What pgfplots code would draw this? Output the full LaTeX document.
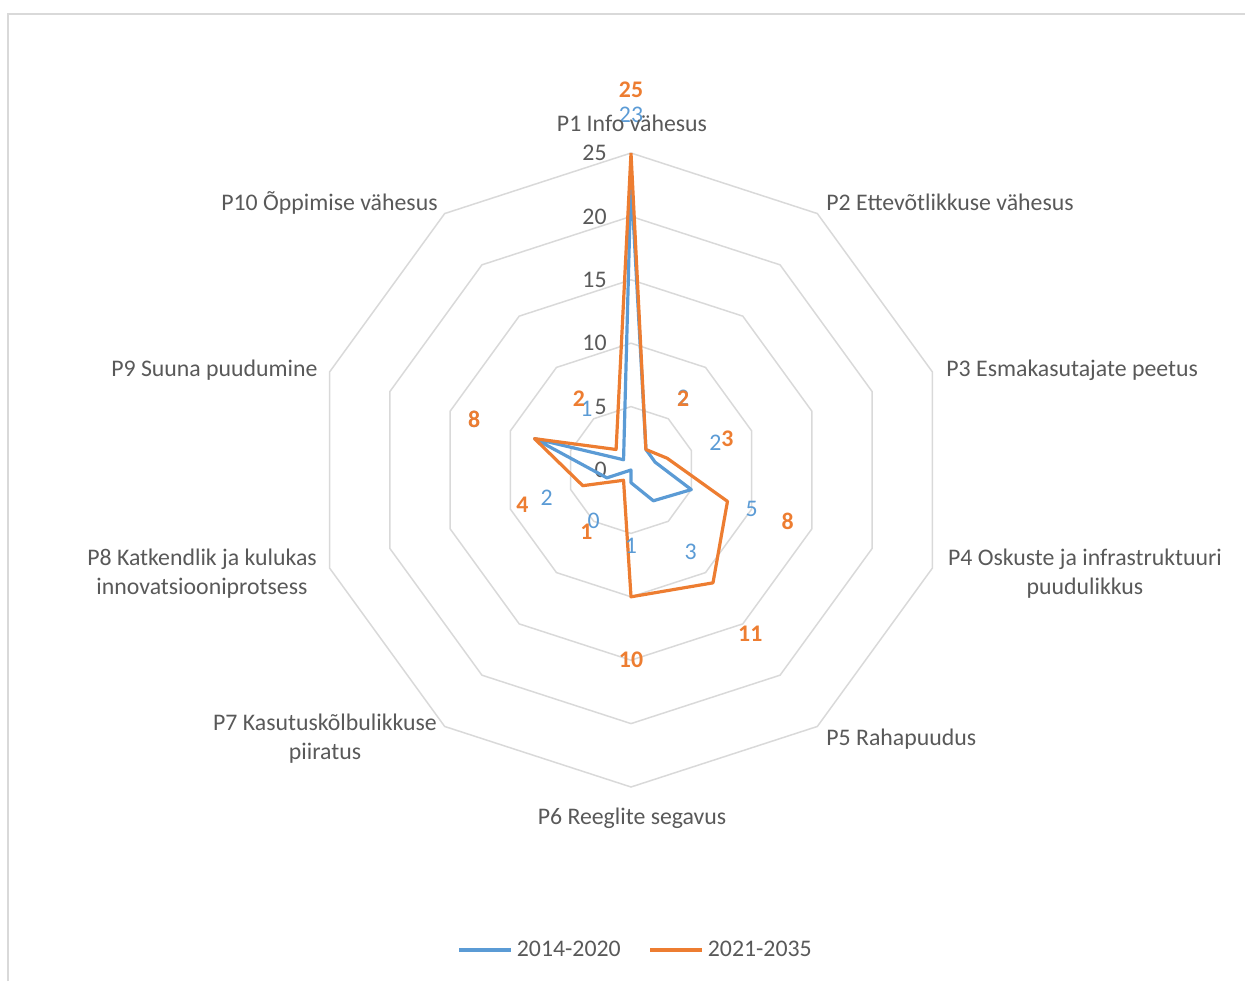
\documentclass[border=0pt]{standalone}
\usepackage{pgfplots}
\pgfplotsset{compat=1.18}
\usepgfplotslibrary{polar}
\usepackage{fontspec}
\setmainfont{Carlito}
\definecolor{sblue}{HTML}{5B9BD5}
\definecolor{sorange}{HTML}{ED7D31}
\definecolor{gridc}{HTML}{D9D9D9}
\definecolor{txt}{HTML}{595959}
\newcommand{\fs}{\fontsize{11.9}{14.5}\selectfont}
\begin{document}
\begin{tikzpicture}
\begin{polaraxis}[
  hide axis, scale only axis, width=317pt, height=317pt,
  xmin=0, xmax=360, ymin=0, ymax=25, clip=false,
  legend style={at={(0.509,-0.257)}, anchor=center, draw=none, fill=none,
    legend columns=2, font=\fs, text=txt,
    /tikz/every even column/.append style={column sep=12pt}},
  legend image code/.code={\draw[#1] (0pt,0pt) -- (26pt,0pt);},
]
% grid decagons
\addplot[gridc, line width=0.75pt, forget plot] coordinates {(90,5)(54,5)(18,5)(342,5)(306,5)(270,5)(234,5)(198,5)(162,5)(126,5)(90,5)};
\addplot[gridc, line width=0.75pt, forget plot] coordinates {(90,10)(54,10)(18,10)(342,10)(306,10)(270,10)(234,10)(198,10)(162,10)(126,10)(90,10)};
\addplot[gridc, line width=0.75pt, forget plot] coordinates {(90,15)(54,15)(18,15)(342,15)(306,15)(270,15)(234,15)(198,15)(162,15)(126,15)(90,15)};
\addplot[gridc, line width=0.75pt, forget plot] coordinates {(90,20)(54,20)(18,20)(342,20)(306,20)(270,20)(234,20)(198,20)(162,20)(126,20)(90,20)};
\addplot[gridc, line width=0.75pt, forget plot] coordinates {(90,25)(54,25)(18,25)(342,25)(306,25)(270,25)(234,25)(198,25)(162,25)(126,25)(90,25)};
% radial tick labels
\node[anchor=east, xshift=-12pt, inner sep=0pt, font=\fs, text=txt] at (axis cs:90,0) {0};
\node[anchor=east, xshift=-12pt, inner sep=0pt, font=\fs, text=txt] at (axis cs:90,5) {5};
\node[anchor=east, xshift=-12pt, inner sep=0pt, font=\fs, text=txt] at (axis cs:90,10) {10};
\node[anchor=east, xshift=-12pt, inner sep=0pt, font=\fs, text=txt] at (axis cs:90,15) {15};
\node[anchor=east, xshift=-12pt, inner sep=0pt, font=\fs, text=txt] at (axis cs:90,20) {20};
\node[anchor=east, xshift=-12pt, inner sep=0pt, font=\fs, text=txt] at (axis cs:90,25) {25};
% data
\addplot[sblue, line width=1.6pt, line join=round] coordinates {(90,23)(54,2)(18,2)(342,5)(306,3)(270,1)(234,0)(198,2)(162,8)(126,1)(90,23)};
\addlegendentry{2014-2020}
\addplot[sorange, line width=1.6pt, line join=round] coordinates {(90,25)(54,2)(18,3)(342,8)(306,11)(270,10)(234,1)(198,4)(162,8)(126,2)(90,25)};
\addlegendentry{2021-2035}
% data labels (placed 5 units outward)
\addplot[draw=none, mark=none, forget plot, nodes near coords, point meta=explicit symbolic,
  nodes near coords align=center,
  every node near coord/.append style={font=\fs, text=sblue, inner sep=0pt}]
  coordinates {(90,28)[23] (54,7)[2] (18,7)[2] (342,10)[5] (306,8)[3] (270,6)[1] (234,5)[0] (198,7)[2] (162,13)[8] (126,6)[1]};
\addplot[draw=none, mark=none, forget plot, nodes near coords, point meta=explicit symbolic,
  nodes near coords align=center,
  every node near coord/.append style={font=\fs\bfseries, text=sorange, inner sep=0pt}]
  coordinates {(90,30)[25] (54,7)[2] (18,8)[3] (342,13)[8] (306,16)[11] (270,15)[10] (234,6)[1] (198,9)[4] (162,13)[8] (126,7)[2]};
\coordinate (c) at (axis cs:0,0);
\end{polaraxis}
\begin{scope}[shift={(c)}, x=0.5pt, y=-0.5pt]
\begin{scope}[shift={(-631,-470)}]
\path[use as bounding box] (0,0) rectangle (1245,981);
\draw[gridc, line width=0.75pt] (8,981) -- (8,14) -- (1245,14);
\tikzset{lab/.style={font=\fs, text=txt, inner sep=0pt}}
\node[lab, anchor=base] at (632,132) {P1 Info vähesus};
\node[lab, anchor=base west] at (826,210) {P2 Ettevõtlikkuse vähesus};
\node[lab, anchor=base west] at (946,376) {P3 Esmakasutajate peetus};
\node[lab, anchor=base] at (1085,565) {P4 Oskuste ja infrastruktuuri};
\node[lab, anchor=base] at (1085,594) {puudulikkus};
\node[lab, anchor=base west] at (826,745) {P5 Rahapuudus};
\node[lab, anchor=base] at (632,824) {P6 Reeglite segavus};
\node[lab, anchor=base] at (325,730) {P7 Kasutuskõlbulikkuse};
\node[lab, anchor=base] at (325,759) {piiratus};
\node[lab, anchor=base] at (202,565) {P8 Katkendlik ja kulukas};
\node[lab, anchor=base] at (202,594) {innovatsiooniprotsess};
\node[lab, anchor=base east] at (318,376) {P9 Suuna puudumine};
\node[lab, anchor=base east] at (438,210) {P10 Õppimise vähesus};
\end{scope}
\end{scope}
\end{tikzpicture}
\end{document}
